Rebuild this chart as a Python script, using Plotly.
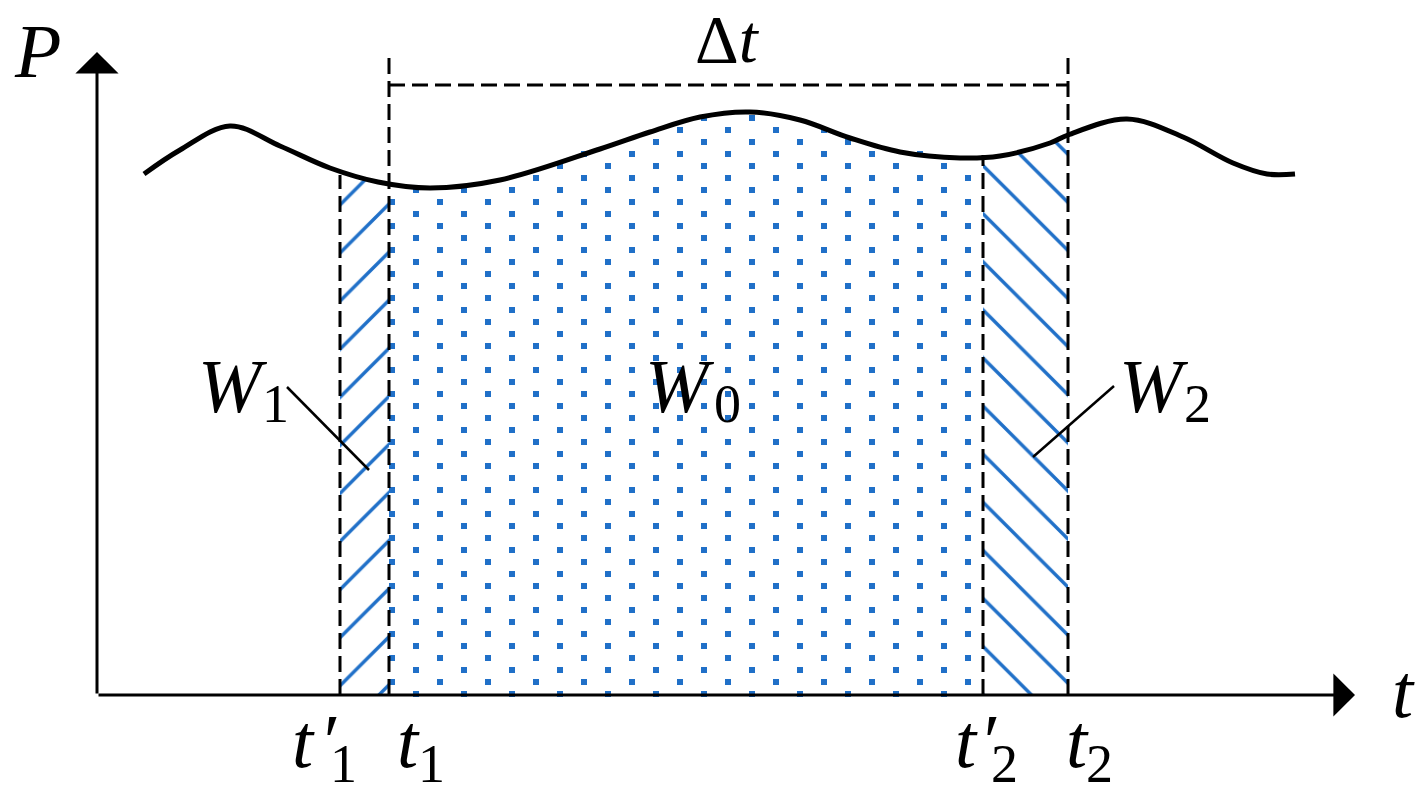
import numpy as np
import plotly.graph_objects as go

# curve P(t) (t, P in 1/10 px units from the axes corner)
curve_t = [4.7, 8.3, 13.3, 18.3, 23.3, 28.1, 33.3, 40.3, 50.3, 55.3, 60.3, 65.3,
           70.3, 75.3, 80.3, 86.3, 90.3, 95.3, 97.1, 103.0, 108.6, 113.6, 117.0, 119.8]
curve_p = [52.1, 54.5, 56.9, 54.9, 52.7, 51.3, 50.7, 51.5, 54.6, 56.3, 57.8, 58.3,
           57.5, 55.7, 54.3, 53.7, 53.9, 55.2, 56.0, 57.6, 55.8, 53.2, 52.1, 52.1]

# time marks t'1, t1, t'2, t2 and the curve height there
mark_t = [24.3, 29.2, 88.6, 97.1]
mark_p = [52.2, 51.2, 53.7, 56.0]
mark_labels = ["t′1", "t1", "t′2", "t2"]

# axis ends
x_end = 125.8
y_end = 64.3

BLUE = "#2070c8"
FONT = "Liberation Serif, Times New Roman, Noto Sans, sans-serif"

fig = go.Figure()

# W1 : hatched strip t'1..t1
left_t = [mark_t[0], mark_t[0]] + [t for t in curve_t if mark_t[0] < t < mark_t[1]] + [mark_t[1], mark_t[1]]
left_p = [0, mark_p[0]] + [p for t, p in zip(curve_t, curve_p) if mark_t[0] < t < mark_t[1]] + [mark_p[1], 0]
fig.add_trace(go.Scatter(x=left_t, y=left_p, fill="toself", mode="lines", line=dict(width=0),
                         fillcolor="white",
                         fillpattern=dict(shape="/", size=34, solidity=0.1, fgcolor=BLUE,
                                          fgopacity=1, bgcolor="white"),
                         hoverinfo="skip", showlegend=False))

# W2 : hatched strip t'2..t2
right_t = [mark_t[2], mark_t[2]] + [t for t in curve_t if mark_t[2] < t < mark_t[3]] + [mark_t[3], mark_t[3]]
right_p = [0, mark_p[2]] + [p for t, p in zip(curve_t, curve_p) if mark_t[2] < t < mark_t[3]] + [mark_p[3], 0]
fig.add_trace(go.Scatter(x=right_t, y=right_p, fill="toself", mode="lines", line=dict(width=0),
                         fillcolor="white",
                         fillpattern=dict(shape="\\", size=34, solidity=0.1, fgcolor=BLUE,
                                          fgopacity=1, bgcolor="white"),
                         hoverinfo="skip", showlegend=False))

# W0 : staggered dot texture between t1 and t'2, below the curve
dots_t, dots_p = [], []
for k in range(-6, 46):
    p = 52.9 - 1.2 * k
    for j in range(-10, 10):
        t = 51.1 + 2.4 * (k % 2) + 4.8 * j
        if mark_t[1] - 0.15 <= t <= mark_t[2] + 0.1 and 0 <= p <= np.interp(t, curve_t, curve_p) + 0.05:
            dots_t.append(t)
            dots_p.append(p)
fig.add_trace(go.Scatter(x=dots_t, y=dots_p, mode="markers",
                         marker=dict(symbol="square", size=6, color=BLUE, line=dict(width=0)),
                         hoverinfo="skip", showlegend=False))

# the power curve
fig.add_trace(go.Scatter(x=curve_t, y=curve_p, mode="lines",
                         line=dict(color="black", width=5, shape="spline", smoothing=1.0),
                         hoverinfo="skip", showlegend=False))

dash = dict(color="black", width=3, dash="16px,7px")
# dashed verticals
fig.add_shape(type="line", x0=mark_t[0], x1=mark_t[0], y0=0, y1=mark_p[0] - 0.2, line=dash)
fig.add_shape(type="line", x0=mark_t[1], x1=mark_t[1], y0=0, y1=64.0, line=dash)
fig.add_shape(type="line", x0=mark_t[2], x1=mark_t[2], y0=0, y1=mark_p[2] + 0.3, line=dash)
fig.add_shape(type="line", x0=mark_t[3], x1=mark_t[3], y0=0, y1=64.0, line=dash)
# delta t bracket
fig.add_shape(type="line", x0=mark_t[1], x1=mark_t[3], y0=61.0, y1=61.0, line=dash)

# leader lines
fig.add_shape(type="line", x0=19.0, y0=30.8, x1=27.2, y1=22.5, line=dict(color="black", width=2.5))
fig.add_shape(type="line", x0=101.7, y0=30.9, x1=93.6, y1=23.8, line=dict(color="black", width=2.5))

# axes with arrows
for xt, yt in [(x_end, 0), (0, y_end)]:
    fig.add_annotation(x=xt, y=yt, ax=0, ay=0, xref="x", yref="y", axref="x", ayref="y",
                       text="", showarrow=True, arrowhead=1, arrowsize=2.4, arrowwidth=3,
                       arrowcolor="black", standoff=0)


def label(x, y, text, size):
    fig.add_annotation(x=x, y=y, xref="x", yref="y", text=text, showarrow=False,
                       xanchor="center", yanchor="middle",
                       font=dict(family=FONT, size=size, color="black"))


BIG, SUB = 76, 54
label(-6.0, 64.4, "<i>P</i>", BIG)
label(130.6, 0.4, "<i>t</i>", BIG)
label(63.0, 65.6, "Δ<i>t</i>", 68)

label(13.6, 30.9, "<i>W</i>", BIG)
label(17.8, 29.1, "1", SUB)
label(58.3, 30.9, "<i>W</i>", BIG)
label(63.0, 29.1, "0", SUB)
label(105.7, 30.9, "<i>W</i>", BIG)
label(110.0, 29.1, "2", SUB)

# tick labels under the time axis
tick_x = [(20.6, 23.1, 24.6), (31.1, None, 33.4), (86.9, 89.1, 90.7), (98.0, None, 100.2)]
for (tx, px_, sx), lab in zip(tick_x, mark_labels):
    label(tx, -4.6, "<i>t</i>", BIG)
    if px_ is not None:
        label(px_, -4.6, "<i>′</i>", BIG)
    label(sx, -6.9, lab[-1], SUB)

# page body has an 8px margin, so the figure starts at (8, 8)
fig.update_xaxes(range=[-8.9, 132.3], visible=False, showgrid=False, zeroline=False)
fig.update_yaxes(range=[-9.4, 68.7], visible=False, showgrid=False, zeroline=False)
fig.update_layout(width=1412, height=781, margin=dict(l=0, r=0, t=0, b=0),
                  plot_bgcolor="white", paper_bgcolor="white", showlegend=False)

fig.write_html("out.html")
